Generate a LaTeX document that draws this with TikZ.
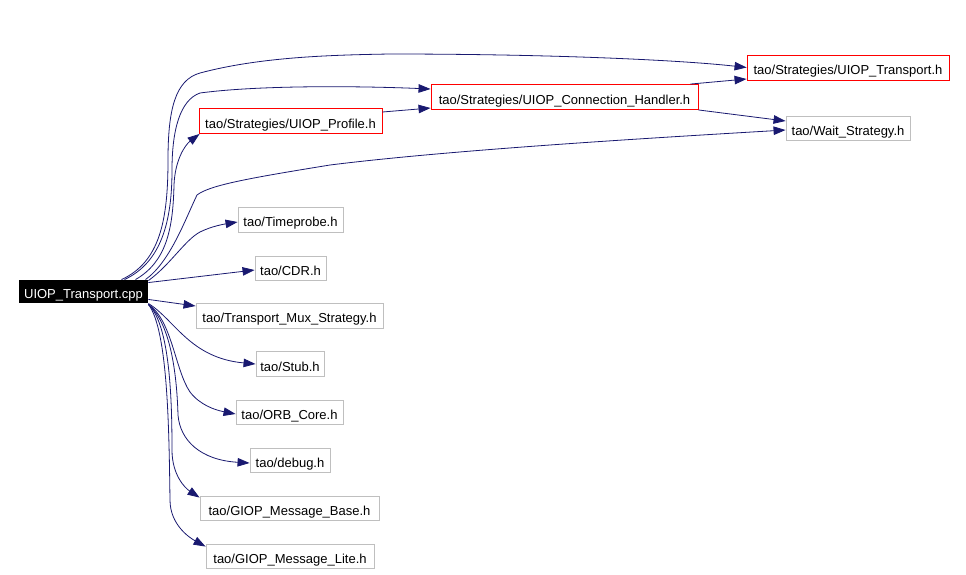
\documentclass[tikz,border=0pt]{standalone}
\usepackage{fontspec}
\setmainfont{Liberation Sans}
\usetikzlibrary{arrows.meta}
\definecolor{edgeblue}{HTML}{191970}
\definecolor{boxgray}{HTML}{BFBFBF}
\tikzset{
  base/.style={inner sep=0pt, minimum height=25pt, text height=16pt, text depth=2pt, font=\fontsize{13}{15}\selectfont, line width=0.9pt},
  mainbox/.style={base, fill=black, text=white, minimum height=23pt},
  redbox/.style={base, draw=red, fill=white},
  graybox/.style={base, draw=boxgray, fill=white},
  dep/.style={draw=edgeblue, line width=0.8pt, -{Triangle[length=12pt,width=8.5pt]}, edgeblue}
}
\begin{document}
\begin{tikzpicture}[x=1pt,y=-1pt]
\useasboundingbox[fill=white] (0,0) rectangle (966,574);
% nodes
\node[mainbox, minimum width=129pt] (cpp) at (83.5,291.5) {UIOP\_Transport.cpp};
\node[redbox, minimum width=183pt] (profile) at (290.5,121) {tao/Strategies/UIOP\_Profile.h};
\node[redbox, minimum width=267pt] (conn) at (564.5,97) {tao/Strategies/UIOP\_Connection\_Handler.h};
\node[redbox, minimum width=202pt] (transh) at (848,67.5) {tao/Strategies/UIOP\_Transport.h};
\node[graybox, minimum width=124pt, minimum height=24pt] (wait) at (848,128) {tao/Wait\_Strategy.h};
\node[graybox, minimum width=105pt] (timeprobe) at (290.5,219.5) {tao/Timeprobe.h};
\node[graybox, minimum width=71pt, minimum height=24pt] (cdr) at (290.5,268) {tao/CDR.h};
\node[graybox, minimum width=187pt] (mux) at (289.5,315.5) {tao/Transport\_Mux\_Strategy.h};
\node[graybox, minimum width=68pt] (stub) at (290,364) {tao/Stub.h};
\node[graybox, minimum width=107pt, minimum height=24pt] (orb) at (289.5,412) {tao/ORB\_Core.h};
\node[graybox, minimum width=80pt, minimum height=24pt] (debug) at (290,460) {tao/debug.h};
\node[graybox, minimum width=179pt, minimum height=24pt] (gmb) at (289.5,508) {tao/GIOP\_Message\_Base.h};
\node[graybox, minimum width=168pt, minimum height=24pt] (gml) at (290,556) {tao/GIOP\_Message\_Lite.h};
% edges
\draw[dep] ([xshift=38pt]cpp.north) .. controls (160,262) and (168,220) .. (168,160)
  .. controls (168,110) and (175,80) .. (200,73)
  .. controls (260,57) and (330,55) .. (390,54)
  .. controls (550,54) and (680,60) .. (transh.west);
\draw[dep] ([xshift=41pt]cpp.north) .. controls (162,262) and (172,220) .. (172,170)
  .. controls (172,130) and (180,100) .. (200,93)
  .. controls (260,85) and (360,86) .. ([yshift=8pt]conn.west);
\draw[dep] ([xshift=52pt]cpp.north) .. controls (166,262) and (173,230) .. (174,185)
  .. controls (175,160) and (185,145) .. ([xshift=1pt]profile.south west);
\draw[dep] ([xshift=62pt]cpp.north) .. controls (170,262) and (185,220) .. (197,195)
  .. controls (210,185) and (250,178) .. (330,165)
  .. controls (450,150) and (650,138) .. ([yshift=-2pt]wait.west);
\draw[dep] ([yshift=9pt]profile.east) -- ([yshift=-11pt]conn.west);
\draw[dep] ([xshift=-8pt]conn.north east) -- ([yshift=-11.5pt]transh.west);
\draw[dep] (conn.south east) -- ([yshift=7pt]wait.west);
\draw[dep] ([yshift=-1pt]cpp.north east) .. controls (170,265) and (185,240) .. (200,232)
  .. controls (212,226) and (225,224) .. ([yshift=-2.5pt]timeprobe.west);
\draw[dep] ([yshift=-3pt]cpp.north east) -- ([yshift=-2pt]cdr.west);
\draw[dep] ([yshift=4pt]cpp.south east) -- ([yshift=9.5pt]mux.west);
\draw[dep] (cpp.south east) .. controls (175,320) and (190,358) .. (stub.west);
\draw[dep] ([yshift=-1pt]cpp.south east) .. controls (172,320) and (175,370) .. (190,392)
  .. controls (200,405) and (215,410) .. ([yshift=-2pt]orb.west);
\draw[dep] ([yshift=-1pt]cpp.south east) .. controls (172,325) and (177,380) .. (178,415)
  .. controls (180,440) and (200,460) .. ([yshift=-3pt]debug.west);
\draw[dep] ([yshift=-1pt]cpp.south east) .. controls (170,325) and (172,400) .. (172,450)
  .. controls (172,475) and (185,488) .. ([yshift=-2pt]gmb.north west);
\draw[dep] ([yshift=-1pt]cpp.south east) .. controls (168,330) and (169,430) .. (170,500)
  .. controls (170,525) and (190,538) .. ([yshift=-3pt]gml.north west);
\end{tikzpicture}
\end{document}
